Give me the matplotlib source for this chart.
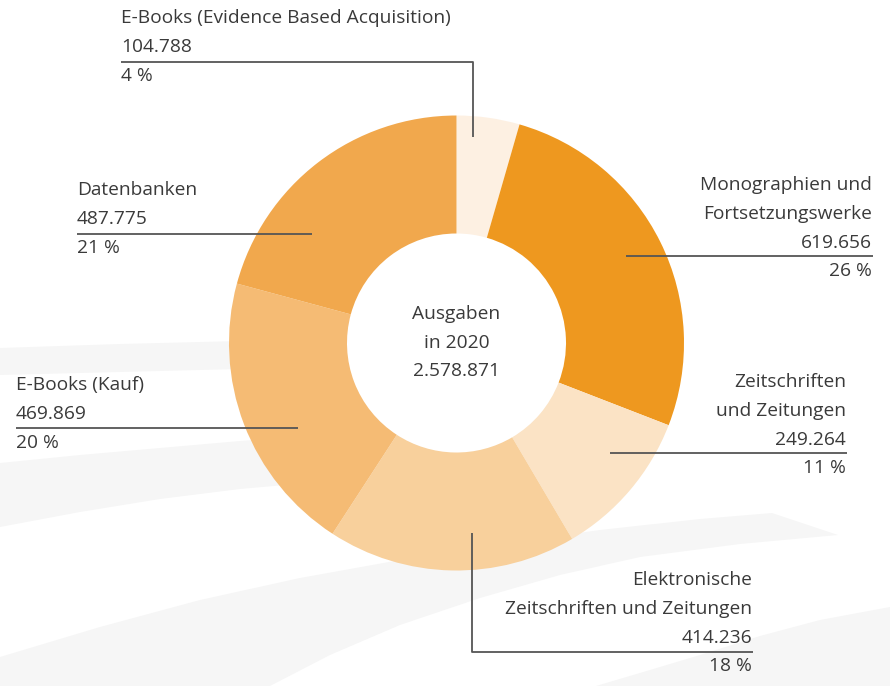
import matplotlib
matplotlib.use("Agg")
import matplotlib.pyplot as plt
from matplotlib.patches import Polygon
import numpy as np

# ---- data ----
categories = [
    "E-Books (Evidence Based Acquisition)",
    "Monographien und\nFortsetzungswerke",
    "Zeitschriften\nund Zeitungen",
    "Elektronische\nZeitschriften und Zeitungen",
    "E-Books (Kauf)",
    "Datenbanken",
]
values = [104788, 619656, 249264, 414236, 469869, 487775]
value_labels = ["104.788", "619.656", "249.264", "414.236", "469.869", "487.775"]
pct_labels = ["4 %", "26 %", "11 %", "18 %", "20 %", "21 %"]
center_lines = ["Ausgaben", "in 2020", "2.578.871"]
colors = ["#fdf0e2", "#ee981f", "#fbe3c5", "#f8d09c", "#f5bb74", "#f1a84d"]

W, H = 890, 686
fig = plt.figure(figsize=(W / 100, H / 100), dpi=100)
ax = fig.add_axes([0, 0, 1, 1])

def Y(y):
    return H - y

# ---- faint background swooshes (decoration) ----
bg = "#f6f6f6"
def smooth(pts, n=60):
    pts = np.array(pts, float)
    t = np.linspace(0, 1, len(pts))
    tt = np.linspace(0, 1, n)
    return np.column_stack([np.interp(tt, t, pts[:, 0]), np.interp(tt, t, pts[:, 1])])

def band(top, bottom):
    pts = [(x, Y(y)) for x, y in top] + [(x, Y(y)) for x, y in reversed(bottom)]
    ax.add_patch(Polygon(pts, closed=True, facecolor=bg, edgecolor="none", zorder=0))

band([(0, 348), (120, 344), (240, 341), (330, 340)],
     [(0, 375), (120, 372), (240, 369), (330, 368)])
band([(0, 463), (80, 455), (160, 448), (240, 441), (330, 434)],
     [(0, 527), (80, 512), (160, 499), (240, 489), (330, 481)])
band([(0, 657), (100, 627), (200, 600), (300, 578), (400, 560), (500, 544), (600, 530), (700, 519), (772, 513), (838, 535)],
     [(0, 686), (270, 686), (330, 655), (400, 625), (480, 598), (560, 575), (640, 557), (740, 544), (838, 535)])
band([(596, 686), (650, 670), (700, 655), (760, 636), (820, 620), (890, 607)],
     [(596, 686), (890, 686), (890, 607)])

# ---- donut ----
cx, cy = 456.5, Y(343)
r_out, r_in = 227.5, 109.5
ax.pie(values, colors=colors, startangle=90, counterclock=False,
       center=(cx, cy), radius=r_out, frame=True,
       wedgeprops=dict(width=r_out - r_in, edgecolor="none", zorder=2))
ax.set_xlim(0, W)
ax.set_ylim(0, H)
ax.set_aspect("equal")
ax.axis("off")

# ---- text ----
tc = "#3a3a3a"
lc = "#555555"
fs = 13.8
fam = ["Open Sans", "DejaVu Sans"]
lh = 28.8
lw = 1.3

def block(x, y_first, lines, ha):
    for i, t in enumerate(lines):
        ax.text(x, Y(y_first + i * lh), t, ha=ha, va="center", fontsize=fs,
                color=tc, family=fam, zorder=5)

def line(xs, ys):
    ax.plot(xs, [Y(v) for v in ys], color=lc, lw=lw, solid_capstyle="butt", zorder=4)

def lines_for(i):
    return categories[i].split("\n") + [value_labels[i], pct_labels[i]]

# EBA
block(121, 18, lines_for(0), "left")
line([121, 473, 473], [62, 62, 137])
# Monographien
block(872, 185, lines_for(1), "right")
line([626, 873], [256, 256])
# Zeitschriften
block(846, 382, lines_for(2), "right")
line([610, 847], [453, 453])
# Elektronische
block(752, 580, lines_for(3), "right")
line([472, 472, 753], [533, 652, 652])
# E-Books Kauf
block(16, 385, lines_for(4), "left")
line([16, 298], [428, 428])
# Datenbanken
block(77, 190, lines_for(5), "left")
line([77, 312], [234, 234])

# center
for i, t in enumerate(center_lines):
    ax.text(456.5, Y(314 + i * 28.5), t, ha="center", va="center", fontsize=fs,
            color=tc, family=fam, zorder=5)

fig.savefig("out.png", dpi=100, facecolor="white")
